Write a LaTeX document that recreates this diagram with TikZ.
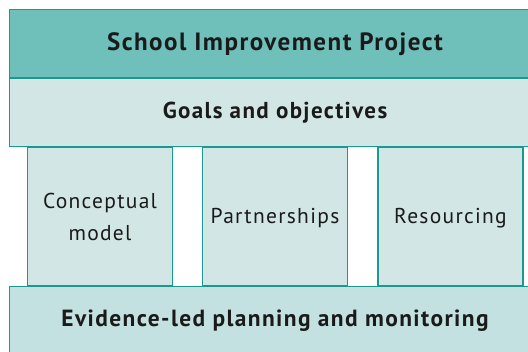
\documentclass[tikz,border=0pt]{standalone}
\usepackage{fontspec}
\setmainfont{PT Sans}[LetterSpace=6]
\definecolor{tealdark}{HTML}{6FBFBA}
\definecolor{teallight}{HTML}{D2E6E5}
\definecolor{tealmid}{HTML}{C3E1E0}
\definecolor{tealline}{HTML}{19998F}
\definecolor{inktext}{HTML}{1A1A1A}
\tikzset{
  band/.style={draw=tealline, line width=1.3pt, text=inktext, inner sep=0pt,
    minimum width=531pt, minimum height=68.5pt, font=\bfseries\fontsize{23}{27}\selectfont},
  pillar/.style={draw=tealline, line width=1.3pt, fill=teallight, text=inktext, inner sep=0pt,
    minimum width=145pt, minimum height=139pt, align=center,
    font=\fontsize{21.5}{32}\selectfont},
  pillarlabel/.style={text=inktext, inner sep=0pt, font=\fontsize{21.5}{32}\selectfont},
}
\begin{document}
\begin{tikzpicture}[x=1pt, y=-1pt]
\useasboundingbox (0,0) rectangle (528,352);
\clip (0,0) rectangle (528,352);
% three pillars between the goals band and the planning band
\node[pillar] (concept) at (100,216.5) {Conceptual\\model};
\node[pillar] (partner) at (275,216.5) {};
\node[pillar] (resource) at (450.5,216.5) {};
\node[pillarlabel] (partnertext) at ([yshift=-2pt]partner.center) {Partnerships};
\node[pillarlabel] (resourcetext) at ([yshift=-2pt]resource.center) {Resourcing};
% horizontal bands
\node[band, fill=tealdark, font=\bfseries\fontsize{25}{29}\selectfont] (project) at (275,43.75) {School Improvement Project};
\node[band, fill=teallight] (goals) at (275,112.5) {Goals and objectives};
\node[band, fill=tealmid, font=\bfseries\fontsize{23.4}{27}\selectfont] (evidence) at (275,320.5) {Evidence-led planning and monitoring};
\end{tikzpicture}
\end{document}
